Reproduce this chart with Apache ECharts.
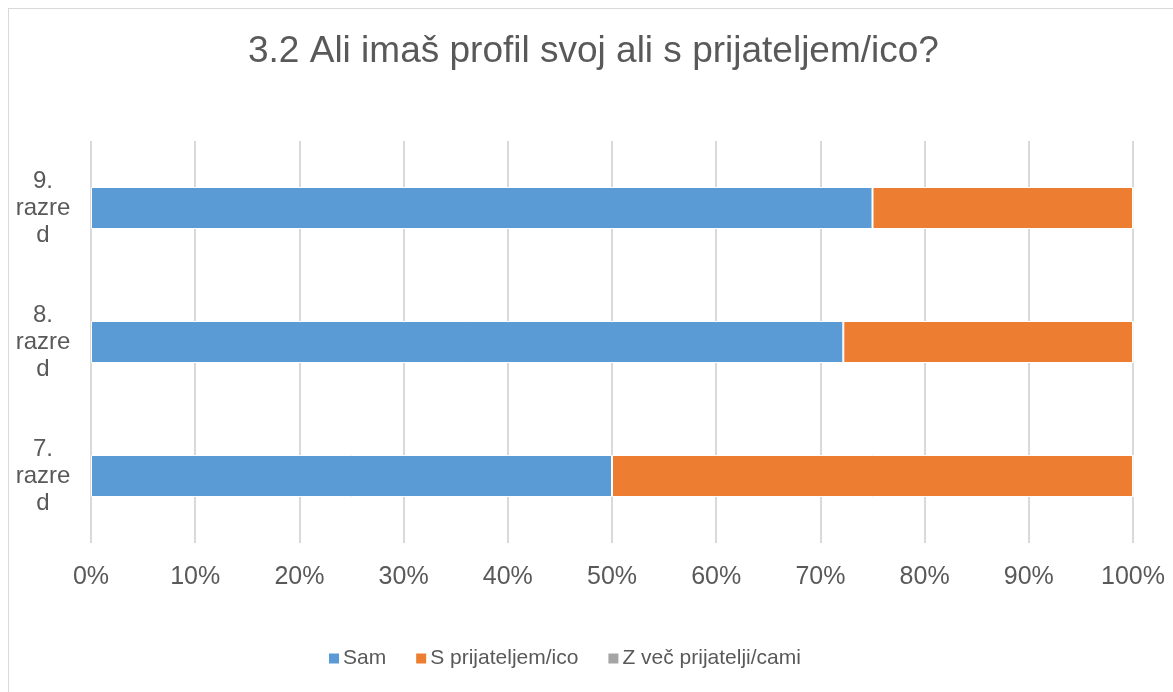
<!DOCTYPE html>
<html>
<head>
<meta charset="utf-8">
<script src="https://cdn.jsdelivr.net/npm/echarts@6/dist/echarts.min.js"></script>
<style>
  * { margin: 0; padding: 0; }
  body { width: 1173px; height: 692px; overflow: hidden; background: #fff; }
  .frame { position: absolute; left: 8px; top: 8px; width: 1180px; height: 700px; border: 1px solid #d9d9d9; }
  #chart { position: absolute; left: 0; top: 0; width: 1173px; height: 692px; }
</style>
</head>
<body>
<div class="frame"></div>
<div id="chart"></div>
<script>
// podatki (odstotki), od spodaj navzgor
var razredi = ['7. razred', '8. razred', '9. razred'];
var sam = [50, 72.2, 75];
var sPrijateljem = [50, 27.8, 25];
var zVec = [0, 0, 0];
var imenaSerij = ['Sam', 'S prijateljem/ico', 'Z več prijatelji/cami'];

var chart = echarts.init(document.getElementById('chart'));
var font = 'Liberation Sans, Arial, sans-serif';

function serija(ime, podatki, barva) {
  return {
    name: ime,
    type: 'bar',
    stack: 'skupaj',
    barWidth: 42,
    data: podatki,
    itemStyle: { color: barva, borderColor: '#fff', borderWidth: 1 }
  };
}

chart.setOption({
  animation: false,
  textStyle: { fontFamily: font },
  title: {
    text: '3.2 Ali imaš profil svoj ali s prijateljem/ico?',
    left: 243,
    top: 28,
    textStyle: { fontSize: 37, fontWeight: 'normal', color: '#595959', fontFamily: font }
  },
  legend: {
    bottom: 18,
    left: 322,
    icon: 'rect',
    itemWidth: 12,
    itemHeight: 12,
    itemGap: 28,
    textStyle: { fontSize: 21, color: '#595959', padding: [0, 0, 0, -2] },
    data: imenaSerij
  },
  grid: { left: 91, right: 40, top: 141, bottom: 149 },
  xAxis: {
    type: 'value',
    min: 0,
    max: 100,
    interval: 10,
    axisLine: { show: false },
    axisTick: { show: false },
    axisLabel: { formatter: '{value}%', fontSize: 25, color: '#595959', margin: 22 },
    splitLine: { lineStyle: { color: '#d9d9d9', width: 2 } }
  },
  yAxis: {
    type: 'category',
    data: razredi,
    axisLine: { show: false },
    axisTick: { show: false },
    axisLabel: {
      fontSize: 24,
      color: '#595959',
      align: 'center',
      margin: 48,
      lineHeight: 27,
      formatter: function (v) { return v.replace(' ', '\n').replace(/d$/, '\nd'); }
    }
  },
  series: [
    serija(imenaSerij[0], sam, '#5B9BD5'),
    serija(imenaSerij[1], sPrijateljem, '#ED7D31'),
    serija(imenaSerij[2], zVec, '#A5A5A5')
  ]
});
</script>
</body>
</html>
